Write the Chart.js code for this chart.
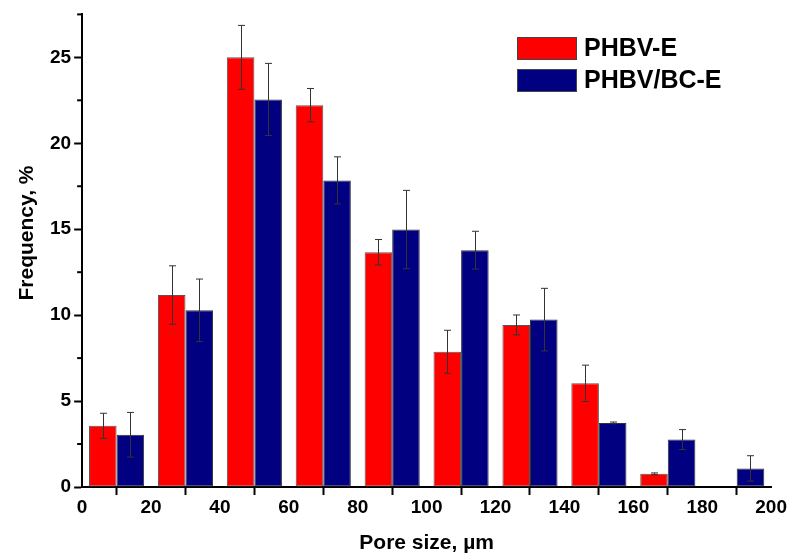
<!DOCTYPE html>
<html>
<head>
<meta charset="utf-8">
<script src="https://cdn.jsdelivr.net/npm/chart.js@4.4.1/dist/chart.umd.min.js"></script>
<style>
  html, body { margin: 0; padding: 0; background: #fff; }
  #wrap { width: 788px; height: 556px; position: relative; }
</style>
</head>
<body>
<div id="wrap"><canvas id="poreChart"></canvas></div>
<script>
// bin centres (pore size, um)
const bins = [10, 30, 50, 70, 90, 110, 130, 150, 170, 190];

// frequency, % and error (+/-)
const phbvE = [3.56, 11.17, 25.0, 22.22, 13.66, 7.87, 9.43, 6.03, 0.77, null];
const phbvEErr = [0.73, 1.7, 1.86, 0.97, 0.74, 1.25, 0.58, 1.06, 0.05, null];
const phbvBcE = [3.04, 10.28, 22.55, 17.84, 14.98, 13.78, 9.74, 3.73, 2.76, 1.08];
const phbvBcEErr = [1.3, 1.82, 2.1, 1.37, 2.28, 1.1, 1.82, 0.05, 0.58, 0.74];

const xTicks = [0, 20, 40, 60, 80, 100, 120, 140, 160, 180, 200];
const yMajor = [0, 5, 10, 15, 20, 25];

const errors = [phbvEErr, phbvBcEErr];
const font = 'Liberation Sans, Arial, sans-serif';

// error bars + minor y ticks + legend + y title
const extras = {
    id: 'extras',
    afterDatasetsDraw(chart) {
        const ctx = chart.ctx;
        const y = chart.scales.y;
        ctx.save();
        ctx.strokeStyle = '#333';
        ctx.lineWidth = 1;
        chart.data.datasets.forEach((ds, i) => {
            const meta = chart.getDatasetMeta(i);
            meta.data.forEach((bar, j) => {
                const v = ds.data[j].y;
                const e = errors[i][j];
                if (v == null || e == null) return;
                const x = Math.round(bar.x) + 0.5;
                const top = y.getPixelForValue(v + e);
                const bot = y.getPixelForValue(v - e);
                ctx.beginPath();
                ctx.moveTo(x, top); ctx.lineTo(x, bot);
                ctx.moveTo(x - 3.5, top); ctx.lineTo(x + 3.5, top);
                ctx.moveTo(x - 3.5, bot); ctx.lineTo(x + 3.5, bot);
                ctx.stroke();
            });
        });
        ctx.restore();
    },
    afterDraw(chart) {
        const ctx = chart.ctx;
        const y = chart.scales.y;
        const area = chart.chartArea;
        ctx.save();
        // minor ticks
        ctx.strokeStyle = '#000';
        ctx.lineWidth = 2;
        y.ticks.forEach(t => {
            if (t.value % 5 === 0) return;
            const py = y.getPixelForValue(t.value);
            ctx.beginPath();
            ctx.moveTo(area.left - 5, py);
            ctx.lineTo(area.left, py);
            ctx.stroke();
        });
        // y title
        ctx.fillStyle = '#000';
        ctx.font = 'bold 21px ' + font;
        ctx.textAlign = 'center';
        ctx.textBaseline = 'middle';
        ctx.translate(27, 233);
        ctx.rotate(-Math.PI / 2);
        ctx.fillText('Frequency, %', 0, 0);
        ctx.restore();

        // legend
        ctx.save();
        ctx.font = 'bold 25px ' + font;
        ctx.textBaseline = 'middle';
        chart.data.datasets.forEach((ds, i) => {
            const top = 37 + i * 32;
            ctx.fillStyle = ds.backgroundColor;
            ctx.fillRect(517, top, 60, 23);
            ctx.strokeStyle = '#444';
            ctx.lineWidth = 1;
            ctx.strokeRect(517.5, top + 0.5, 59, 22);
            ctx.fillStyle = '#000';
            ctx.fillText(ds.label, 584, top + 12);
        });
        ctx.restore();
    }
};

new Chart(document.getElementById('poreChart'), {
    type: 'bar',
    data: {
        datasets: [
            {
                label: 'PHBV-E',
                data: bins.map((b, i) => ({ x: b, y: phbvE[i] })),
                backgroundColor: '#FF0000',
                borderColor: '#555',
                borderWidth: 1,
                borderSkipped: false
            },
            {
                label: 'PHBV/BC-E',
                data: bins.map((b, i) => ({ x: b, y: phbvBcE[i] })),
                backgroundColor: '#000080',
                borderColor: '#333',
                borderWidth: 1,
                borderSkipped: false
            }
        ]
    },
    options: {
        responsive: true,
        maintainAspectRatio: false,
        animation: false,
        categoryPercentage: 0.8,
        barPercentage: 1.0,
        layout: { padding: { left: 47, top: 12, right: 0, bottom: 0 } },
        plugins: {
            legend: { display: false },
            tooltip: { enabled: false }
        },
        scales: {
            x: {
                type: 'linear',
                min: 0,
                max: 200,
                offset: false,
                afterBuildTicks: s => { s.ticks = xTicks.map(v => ({ value: v })); },
                grid: { drawOnChartArea: false, tickLength: 8, tickWidth: 2, color: '#000' },
                border: { display: true, color: '#000', width: 2 },
                ticks: {
                    color: '#000',
                    font: { family: font, size: 19, weight: 'bold' },
                    padding: 1,
                    maxRotation: 0
                },
                title: {
                    display: true,
                    text: 'Pore size, \u00b5m',
                    color: '#000',
                    font: { family: font, size: 21, weight: 'bold' },
                    padding: { top: 11, bottom: 0 }
                }
            },
            y: {
                min: 0,
                max: 27.5,
                ticks: {
                    stepSize: 2.5,
                    color: '#000',
                    font: { family: font, size: 19, weight: 'bold' },
                    padding: 3,
                    callback: v => (yMajor.includes(v) ? v : '')
                },
                grid: {
                    drawOnChartArea: false,
                    tickLength: 8,
                    tickWidth: 2,
                    tickColor: c => (c.tick && c.tick.value % 5 === 0 ? '#000' : 'rgba(0,0,0,0)')
                },
                border: { display: true, color: '#000', width: 2 }
            }
        }
    },
    plugins: [extras]
});
</script>
</body>
</html>
